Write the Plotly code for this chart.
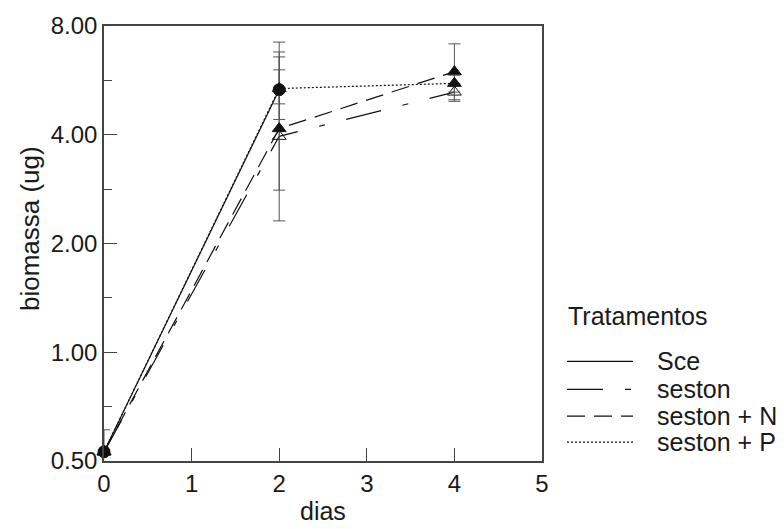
import plotly.graph_objects as go

# Biomass (ug) per treatment over the sampling days
days_sce = [0, 2]
sce = [0.53, 5.33]
sce_up = [0.08, 1.24]
sce_dn = [0.0, 0.92]

days = [0, 2, 4]
seston = [0.53, 3.96, 5.25]
seston_up = [0.0, 2.82, 0.30]
seston_dn = [0.0, 1.65, 0.30]

seston_n = [0.53, 4.16, 5.98]
seston_n_up = [0.0, 1.89, 1.16]
seston_n_dn = [0.0, 1.35, 0.98]

seston_p = [0.53, 5.37, 5.55]
seston_p_up = [0.0, 1.85, 0.30]
seston_p_dn = [0.0, 0.50, 0.30]

y_ticks = [0.5, 1, 2, 4, 8]
y_tick_text = ["0.50", "1.00", "2.00", "4.00", "8.00"]
y_minor = [0.7071, 1.4142, 2.8284, 5.6569]
x_ticks = [0, 1, 2, 3, 4, 5]

x_title = "dias"
y_title = "biomassa (ug)"
legend_title = "Tratamentos"

FONT = "Liberation Sans, Arial, Helvetica, sans-serif"
INK = "#111111"
TEXT = "#1a1a1a"
ERR = "#555555"
AXIS = "#444444"

# Figure geometry (pixels)
W, H = 784, 529
ML, MR, MT, MB = 104, 242, 24, 68
PW, PH = W - ML - MR, H - MT - MB


def px_x(px):
    return (px - ML) / PW


def px_y(py):
    return (H - MB - py) / PH


def err(up, dn):
    return dict(type="data", symmetric=False, array=up, arrayminus=dn,
                color=ERR, thickness=1, width=6)


series = [
    ("Sce", days_sce, sce, sce_up, sce_dn, "solid", "circle"),
    ("seston", days, seston, seston_up, seston_dn, "36px,22px,6px,22px", "triangle-up-open"),
    ("seston + N", days, seston_n, seston_n_up, seston_n_dn, "18px,9px", "triangle-up"),
    ("seston + P", days, seston_p, seston_p_up, seston_p_dn, "2px,2px", "triangle-up"),
]

fig = go.Figure()
for name, xs, ys, up, dn, dash, sym in series:
    fig.add_trace(go.Scatter(
        x=xs, y=ys, mode="lines+markers", name=name, showlegend=False,
        line=dict(color=INK, width=1.2, dash=dash),
        marker=dict(symbol=sym, size=12, color=INK, line=dict(color=INK, width=1)),
        error_y=err(up, dn), cliponaxis=False,
    ))
# Sce circles kept on top of the day-2 cluster
fig.add_trace(go.Scatter(x=days_sce, y=sce, mode="markers", showlegend=False,
                         marker=dict(symbol="circle", size=12, color=INK)))

# Axis titles
annotations = [
    dict(text=x_title, x=px_x(323), y=px_y(511), xref="paper", yref="paper",
         xanchor="center", yanchor="middle", showarrow=False,
         font=dict(size=25, color=TEXT)),
    dict(text=y_title, x=px_x(30), y=px_y(228), xref="paper", yref="paper",
         xanchor="center", yanchor="middle", textangle=-90, showarrow=False,
         font=dict(size=26, color=TEXT)),
]

# Legend block on the right: title, line samples and labels
annotations.append(dict(text=legend_title, x=px_x(566), y=px_y(315),
                        xref="paper", yref="paper", xanchor="left",
                        yanchor="middle", showarrow=False,
                        font=dict(size=25, color=TEXT)))
shapes = []
row_y = [361, 389, 416, 442]
for (name, xs, ys, up, dn, dash, sym), ry in zip(series, row_y):
    shapes.append(dict(type="line", xref="paper", yref="paper",
                       x0=px_x(567), x1=px_x(633), y0=px_y(ry), y1=px_y(ry),
                       line=dict(color=INK, width=1.2, dash=dash)))
    annotations.append(dict(text=name, x=px_x(655), y=px_y(ry), xref="paper",
                            yref="paper", xanchor="left", yanchor="middle",
                            showarrow=False, font=dict(size=25, color=TEXT)))

fig.update_layout(
    width=W, height=H,
    margin=dict(l=ML, r=MR, t=MT, b=MB),
    paper_bgcolor="white", plot_bgcolor="white",
    font=dict(family=FONT, size=24, color=TEXT),
    showlegend=False,
    annotations=annotations, shapes=shapes,
    xaxis=dict(
        range=[0, 5], tickvals=x_ticks, ticks="inside", ticklen=13,
        tickcolor=AXIS, tickwidth=1.2, showline=True, linecolor=AXIS,
        linewidth=1.5, mirror=True, showgrid=False, zeroline=False,
        tickfont=dict(size=24),
    ),
    yaxis=dict(
        type="log", range=[-0.30103, 0.90309], tickvals=y_ticks,
        ticktext=y_tick_text, ticks="inside", ticklen=13, tickcolor=AXIS,
        tickwidth=1.2, showline=True, linecolor=AXIS, linewidth=1.5,
        mirror=True, showgrid=False, zeroline=False,
        minor=dict(tickvals=y_minor, ticks="inside", ticklen=8,
                   tickcolor=AXIS, tickwidth=1.2, showgrid=False),
        tickfont=dict(size=24),
    ),
)

fig.write_html("out.html")
